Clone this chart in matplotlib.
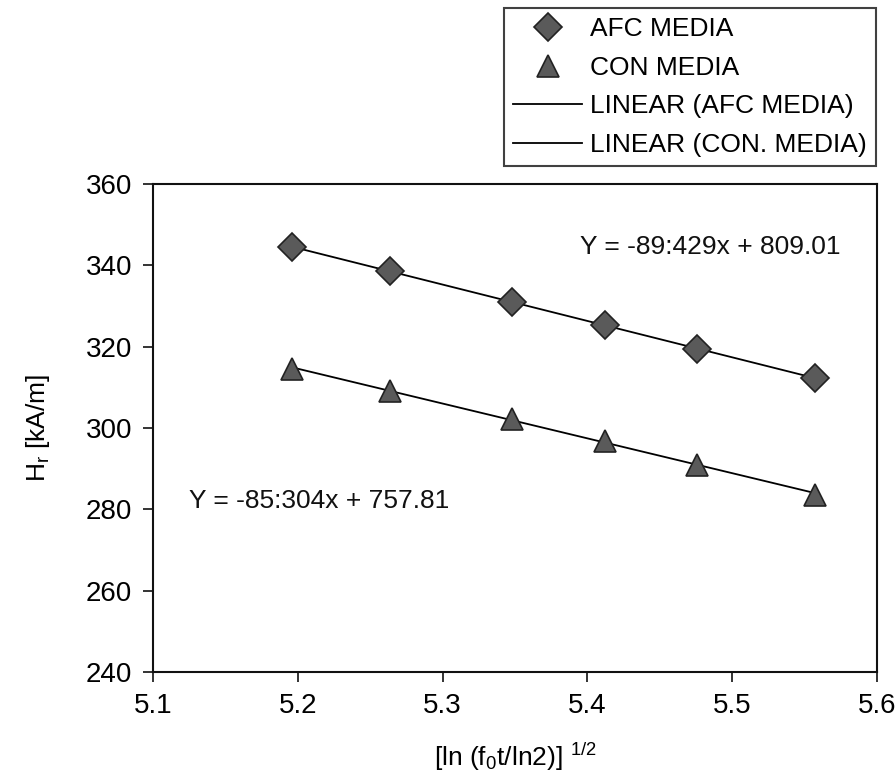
import numpy as np
import matplotlib
matplotlib.use("Agg")
import matplotlib.pyplot as plt

plt.rcParams['font.family'] = ['Liberation Sans', 'DejaVu Sans']
plt.rcParams['mathtext.default'] = 'regular'

# data
x_afc = [5.196, 5.264, 5.348, 5.412, 5.476, 5.557]
y_afc = [344.4, 338.6, 331.1, 325.3, 319.5, 312.2]
x_con = [5.196, 5.264, 5.348, 5.412, 5.476, 5.557]
y_con = [314.5, 309.2, 302.2, 296.8, 291.0, 283.6]

eq_afc = "Y = -89:429x + 809.01"
eq_con = "Y = -85:304x + 757.81"

xticks = [5.1, 5.2, 5.3, 5.4, 5.5, 5.6]
yticks = [240, 260, 280, 300, 320, 340, 360]

fs = 19

fig = plt.figure(figsize=(8.96, 7.79), dpi=100)
ax = fig.add_axes([153/896, 1-672/779, (877-153)/896, (672-184)/779])

# trend lines
k1, b1 = np.polyfit(x_afc, y_afc, 1)
k2, b2 = np.polyfit(x_con, y_con, 1)
xa = np.array([x_afc[0], x_afc[-1]])
xc = np.array([x_con[0], x_con[-1]])

p1, = ax.plot(x_afc, y_afc, 'D', ms=14, mfc='#5a5a5a', mec='#222222', mew=1.2, ls='none', label='AFC MEDIA', zorder=3)
p2, = ax.plot(x_con, y_con, '^', ms=16, mfc='#5a5a5a', mec='#222222', mew=1.2, ls='none', label='CON MEDIA', zorder=3)
l1, = ax.plot(xa, k1*xa + b1, color='black', lw=1.3, label='LINEAR (AFC MEDIA)', zorder=2)
l2, = ax.plot(xc, k2*xc + b2, color='black', lw=1.3, label='LINEAR (CON. MEDIA)', zorder=2)

ax.text(5.395, 344.5, eq_afc, fontsize=fs, va='center', ha='left', color='#111111')
ax.text(5.125, 282, eq_con, fontsize=fs, va='center', ha='left', color='#111111')

ax.set_xlim(5.1, 5.6)
ax.set_ylim(240, 360)
ax.set_xticks(xticks)
ax.set_xticklabels([str(v) for v in xticks])
ax.set_yticks(yticks)
ax.tick_params(direction='out', length=7, width=1.2, labelsize=20, pad=8, color='#111111')
for s in ax.spines.values():
    s.set_linewidth(1.5)
    s.set_color('#111111')

ax.set_xlabel(r"[ln (f$_0$t/ln2)] $^{1/2}$", fontsize=fs, labelpad=16)
ax.set_ylabel(r"H$_r$ [kA/m]", fontsize=fs, labelpad=24)

leg = fig.legend(handles=[p1, p2, l1, l2], loc='upper right',
                 bbox_to_anchor=(876/896, 1-8/779), fontsize=fs,
                 frameon=True, fancybox=False, edgecolor='#111111',
                 borderpad=0.35, labelspacing=0.55, handlelength=2.6,
                 handletextpad=0.3, borderaxespad=0)
leg.get_frame().set_linewidth(1.5)

fig.savefig("out.png", dpi=100)
